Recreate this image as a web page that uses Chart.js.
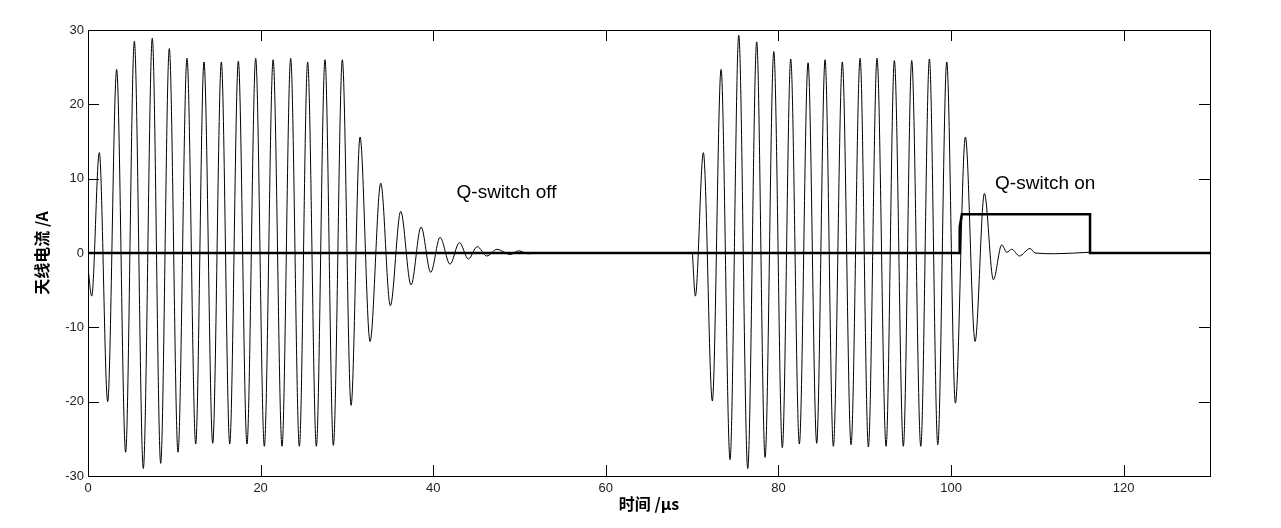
<!DOCTYPE html>
<html>
<head>
<meta charset="utf-8">
<script src="https://cdn.jsdelivr.net/npm/chart.js@4/dist/chart.umd.min.js"></script>
<style>
	body { margin: 0; background: #fff; }
	#wrap { width: 1281px; height: 528px; }
</style>
</head>
<body>
<div id="wrap"><canvas id="antennaChart" width="1281" height="528"></canvas></div>
<script>
// peaks, time in us, current in A
var burstOne = [
	[0, -2.0], [0.43, -5.8], [1.31, 13.5], [2.28, -20.0], [3.32, 24.7], [4.36, -26.8],
	[5.37, 28.5], [6.41, -29.0], [7.45, 28.9], [8.42, -28.3], [9.42, 27.5], [10.43, -26.8],
	[11.47, 26.2], [12.48, -25.7], [13.44, 25.7], [14.45, -25.6], [15.45, 25.7], [16.42, -25.7],
	[17.42, 25.8], [18.42, -25.7], [19.43, 26.2], [20.43, -26.0], [21.45, 26.0], [22.48, -26.0],
	[23.48, 26.2], [24.49, -26.0], [25.45, 25.7], [26.46, -26.0], [27.46, 26.0], [28.43, -25.9],
	[29.47, 26.0], [30.48, -20.5], [31.52, 15.6], [32.68, -11.9], [33.92, 9.4], [35.03, -7.1],
	[36.23, 5.6], [37.43, -4.3], [38.59, 3.5], [39.71, -2.6], [40.79, 2.1], [41.95, -1.5],
	[43.03, 1.4], [44.07, -0.8], [45.1, 0.85], [46.2, -0.4], [47.4, 0.5], [48.9, -0.2],
	[49.9, 0.3], [51.0, -0.1], [52.2, 0]
];
var burstTwo = [
	[70.03, 0], [70.37, -5.8], [71.3, 13.5], [72.34, -19.9], [73.35, 24.7], [74.39, -27.8],
	[75.4, 29.3], [76.44, -29.0], [77.48, 28.4], [78.45, -27.5], [79.46, 27.1], [80.45, -26.2],
	[81.42, 26.1], [82.42, -25.7], [83.43, 25.6], [84.43, -25.6], [85.4, 26.0], [86.36, -26.0],
	[87.4, 25.7], [88.41, -25.8], [89.46, 26.2], [90.42, -26.1], [91.42, 26.2], [92.47, -26.0],
	[93.43, 25.9], [94.47, -26.0], [95.44, 25.9], [96.49, -26.0], [97.49, 26.1], [98.46, -25.8],
	[99.5, 25.7], [100.5, -20.2], [101.66, 15.6], [102.78, -11.9], [103.86, 8.0], [104.9, -3.6],
	[105.87, 1.1], [106.45, 0.1], [107.03, 0.5], [107.91, -0.4], [109.15, 0.6], [109.73, 0.0],
	[112, -0.1], [116.1, 0.1]
];
var qSwitch = [
	[0, 0], [100.95, 0], [101.0, 3.5], [101.25, 5.2], [116.1, 5.2], [116.1, 0], [130, 0]
];
var xTicks = [0, 20, 40, 60, 80, 100, 120];
var yTicks = [-30, -20, -10, 0, 10, 20, 30];
var noteText = ["Q-switch off", "Q-switch on"];
var noteAt = [[42.7, 7.4], [105.1, 8.6]];

function toPoints(arr){
	return arr.map(function(p){ return {x: p[0], y: p[1]}; });
}

// box, inward ticks on all four sides and the two notes
const boxPlugin = {
	id: 'boxPlugin',
	afterDraw(chart){
		const ctx = chart.ctx, area = chart.chartArea;
		const xs = chart.scales.x, ys = chart.scales.y;
		const len = 11;
		ctx.save();
		ctx.strokeStyle = '#000';
		ctx.lineWidth = 1;
		ctx.beginPath();
		xTicks.forEach(function(v){
			const px = Math.round(xs.getPixelForValue(v)) + 0.5;
			ctx.moveTo(px, area.bottom); ctx.lineTo(px, area.bottom - len);
			ctx.moveTo(px, area.top); ctx.lineTo(px, area.top + len);
		});
		yTicks.forEach(function(v){
			const py = Math.round(ys.getPixelForValue(v)) + 0.5;
			ctx.moveTo(area.left, py); ctx.lineTo(area.left + len, py);
			ctx.moveTo(area.right, py); ctx.lineTo(area.right - len, py);
		});
		ctx.stroke();
		ctx.strokeRect(Math.round(area.left) + 0.5, Math.round(area.top) + 0.5,
			Math.round(area.right - area.left), Math.round(area.bottom - area.top));

		ctx.fillStyle = '#000';
		ctx.font = '19px "Liberation Sans", Arial, sans-serif';
		ctx.textAlign = 'left';
		ctx.textBaseline = 'alphabetic';
		noteText.forEach(function(t, i){
			ctx.fillText(t, xs.getPixelForValue(noteAt[i][0]), ys.getPixelForValue(noteAt[i][1]));
		});
		ctx.restore();
	}
};

new Chart(document.getElementById("antennaChart"), {
	type: 'line',
	data: {
		datasets: [
			{
				data: toPoints(qSwitch),
				borderColor: '#000',
				borderWidth: 2.5,
				tension: 0,
				pointRadius: 0
			},
			{
				data: toPoints(burstOne),
				borderColor: '#000',
				borderWidth: 1,
				cubicInterpolationMode: 'monotone',
				pointRadius: 0
			},
			{
				data: toPoints(burstTwo),
				borderColor: '#000',
				borderWidth: 1,
				cubicInterpolationMode: 'monotone',
				pointRadius: 0
			}
		]
	},
	options: {
		responsive: false,
		animation: false,
		layout: { padding: { top: 30, right: 71, bottom: 0, left: 0 } },
		plugins: {
			legend: { display: false },
			tooltip: { enabled: false }
		},
		scales: {
			x: {
				type: 'linear',
				min: 0,
				max: 130,
				grid: { display: false, drawTicks: false, tickLength: 0 },
				border: { display: false },
				ticks: {
					stepSize: 20,
					includeBounds: false,
					maxRotation: 0,
					padding: 5,
					color: '#222',
					font: { family: '"Liberation Sans", Arial, sans-serif', size: 13 }
				},
				title: {
					display: true,
					text: '时间 /μs',
					color: '#000',
					font: { family: '"Noto Sans CJK SC", sans-serif', size: 16, weight: 'bold' },
					padding: { top: 0, bottom: 14 }
				},
				afterFit: function(scale){ scale.height = 52; }
			},
			y: {
				min: -30,
				max: 30,
				grid: { display: false, drawTicks: false, tickLength: 0 },
				border: { display: false },
				ticks: {
					stepSize: 10,
					padding: 4,
					color: '#222',
					font: { family: '"Liberation Sans", Arial, sans-serif', size: 13 }
				},
				title: {
					display: true,
					text: '天线电流 /A',
					color: '#000',
					font: { family: '"Noto Sans CJK SC", sans-serif', size: 16, weight: 'bold' },
					padding: { top: 32, bottom: 0 }
				},
				afterFit: function(scale){ scale.width = 88; }
			}
		}
	},
	plugins: [boxPlugin]
});
</script>
</body>
</html>
